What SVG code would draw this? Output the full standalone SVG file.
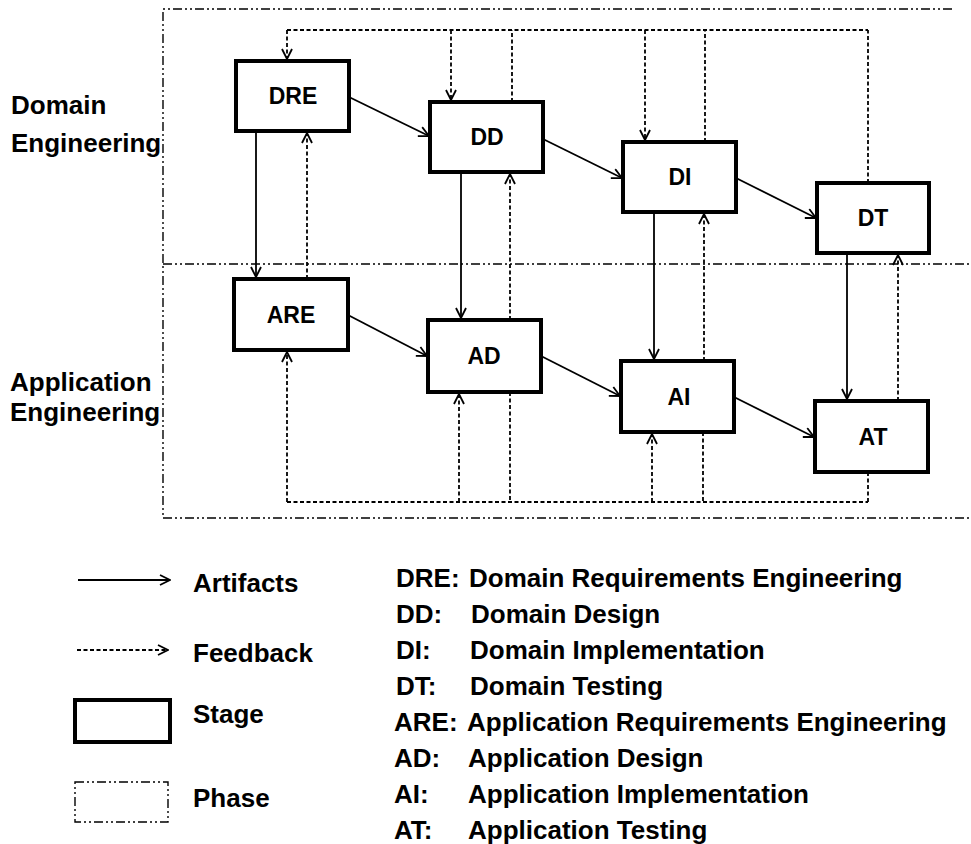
<svg xmlns="http://www.w3.org/2000/svg" width="971" height="844" viewBox="0 0 971 844">
<style>
text{font-family:"Liberation Sans",Arial,sans-serif;font-weight:bold;fill:#000}
.lbl{font-size:23px;text-anchor:middle}
.side{font-size:26px}
.leg{font-size:26px}
.stage{fill:#fff;stroke:#000;stroke-width:4}
.phase{fill:none;stroke:#000;stroke-width:1.4;stroke-dasharray:9 3 2 3 2 3}
.art{fill:none;stroke:#000;stroke-width:1.8;marker-end:url(#ah)}
.fb{fill:none;stroke:#000;stroke-width:1.8;stroke-dasharray:4 2.5;marker-end:url(#ah)}
.fbl{fill:none;stroke:#000;stroke-width:1.8;stroke-dasharray:4 2.5}
</style>
<defs>
<marker id="ah" viewBox="0 0 12 12" refX="11" refY="6" markerWidth="12" markerHeight="12" markerUnits="userSpaceOnUse" orient="auto">
<path d="M1,1 L11,6 L1,11" fill="none" stroke="#000" stroke-width="1.8"/>
</marker>
</defs>
<g id="phases">
<path class="phase" d="M952,9 H163 V518"/>
<path class="phase" d="M163,264 H971"/>
<path class="phase" d="M163,518 H971"/>
<text class="side" x="11" y="114">Domain</text>
<text class="side" x="11" y="152">Engineering</text>
<text class="side" x="10" y="391">Application</text>
<text class="side" x="10" y="421">Engineering</text>
</g>
<g id="connectors">
<line class="art" x1="349" y1="97" x2="429" y2="136"/>
<line class="art" x1="543" y1="139" x2="622" y2="178"/>
<line class="art" x1="736" y1="178" x2="816" y2="218"/>
<line class="art" x1="348" y1="315" x2="427" y2="356"/>
<line class="art" x1="541" y1="356" x2="620" y2="396"/>
<line class="art" x1="734" y1="397" x2="814" y2="437"/>
<line class="art" x1="256" y1="131" x2="256" y2="277"/>
<line class="art" x1="461" y1="172" x2="461" y2="318"/>
<line class="art" x1="654" y1="212" x2="654" y2="359"/>
<line class="art" x1="847" y1="253" x2="847" y2="399"/>
<line class="fb" x1="307" y1="279" x2="307" y2="133"/>
<line class="fb" x1="510" y1="320" x2="510" y2="174"/>
<line class="fb" x1="704" y1="361" x2="704" y2="214"/>
<line class="fb" x1="898" y1="401" x2="898" y2="255"/>
<line class="fbl" x1="287" y1="30" x2="868" y2="30"/>
<line class="fb" x1="287" y1="30" x2="287" y2="59"/>
<line class="fb" x1="451" y1="30" x2="451" y2="100"/>
<line class="fbl" x1="512" y1="102" x2="512" y2="30"/>
<line class="fb" x1="645" y1="30" x2="645" y2="140"/>
<line class="fbl" x1="705" y1="142" x2="705" y2="30"/>
<line class="fbl" x1="868" y1="183" x2="868" y2="30"/>
<line class="fbl" x1="287" y1="502" x2="868" y2="502"/>
<line class="fb" x1="287" y1="502" x2="287" y2="352"/>
<line class="fb" x1="459" y1="502" x2="459" y2="394"/>
<line class="fbl" x1="510" y1="392" x2="510" y2="502"/>
<line class="fb" x1="652" y1="502" x2="652" y2="434"/>
<line class="fbl" x1="703" y1="432" x2="703" y2="502"/>
<line class="fbl" x1="868" y1="472" x2="868" y2="502"/>
</g>
<g id="DRE"><rect class="stage" x="236" y="61" width="113" height="70"/><text class="lbl" x="293" y="104">DRE</text></g>
<g id="DD"><rect class="stage" x="430" y="102" width="113" height="70"/><text class="lbl" x="487" y="145">DD</text></g>
<g id="DI"><rect class="stage" x="623" y="142" width="113" height="70"/><text class="lbl" x="680" y="185">DI</text></g>
<g id="DT"><rect class="stage" x="817" y="183" width="112" height="70"/><text class="lbl" x="873" y="226">DT</text></g>
<g id="ARE"><rect class="stage" x="234" y="279" width="114" height="71"/><text class="lbl" x="291" y="323">ARE</text></g>
<g id="AD"><rect class="stage" x="428" y="320" width="113" height="72"/><text class="lbl" x="484" y="364">AD</text></g>
<g id="AI"><rect class="stage" x="621" y="361" width="113" height="71"/><text class="lbl" x="679" y="405">AI</text></g>
<g id="AT"><rect class="stage" x="815" y="401" width="113" height="71"/><text class="lbl" x="873" y="445">AT</text></g>
<g id="legend">
<line class="art" x1="78" y1="580" x2="170" y2="580"/>
<text class="leg" x="193" y="592">Artifacts</text>
<line class="fb" x1="77" y1="650" x2="168" y2="650"/>
<text class="leg" x="193" y="662">Feedback</text>
<rect class="stage" x="75" y="700" width="95" height="42"/>
<text class="leg" x="193" y="723">Stage</text>
<rect class="phase" x="75" y="782" width="93" height="40"/>
<text class="leg" x="193" y="807">Phase</text>
<text class="leg" x="396" y="587">DRE:</text><text class="leg" x="469" y="587">Domain Requirements Engineering</text>
<text class="leg" x="396" y="623">DD:</text><text class="leg" x="471" y="623">Domain Design</text>
<text class="leg" x="396" y="659">DI:</text><text class="leg" x="470" y="659">Domain Implementation</text>
<text class="leg" x="396" y="695">DT:</text><text class="leg" x="470" y="695">Domain Testing</text>
<text class="leg" x="394" y="731">ARE:</text><text class="leg" x="467" y="731">Application Requirements Engineering</text>
<text class="leg" x="394" y="767">AD:</text><text class="leg" x="468" y="767">Application Design</text>
<text class="leg" x="394" y="803">AI:</text><text class="leg" x="468" y="803">Application Implementation</text>
<text class="leg" x="394" y="839">AT:</text><text class="leg" x="468" y="839">Application Testing</text>
</g>
</svg>
